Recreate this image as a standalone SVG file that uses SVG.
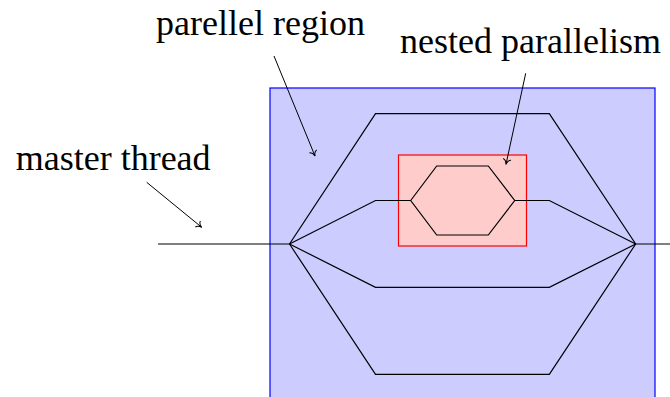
<svg xmlns="http://www.w3.org/2000/svg" width="670" height="397" viewBox="0 0 670 397">
<defs>
<style>
.lbl{font-family:"Liberation Serif","Times New Roman",serif;font-size:36px;fill:#000}
.thr{fill:none;stroke:#000;stroke-width:1.2;stroke-linejoin:miter}
.arr{fill:none;stroke:#000;stroke-width:1;marker-end:url(#to)}
</style>
<marker id="to" viewBox="-6 -5 8 10" refX="0" refY="0" markerWidth="8" markerHeight="10" markerUnits="userSpaceOnUse" orient="auto" overflow="visible">
<path d="M -5 -4 C -4.5 -1.6 -1.8 -0.4 0 0 C -1.8 0.4 -4.5 1.6 -5 4" fill="none" stroke="#000" stroke-width="1"/>
</marker>
</defs>
<g id="parallel-region">
<rect x="270" y="88" width="385" height="320" fill="#ccccff" stroke="#0000ff" stroke-width="1.2"/>
</g>
<g id="nested-region">
<rect x="398.5" y="155" width="128" height="91" fill="#ffcccc" stroke="#ff0000" stroke-width="1.2"/>
</g>
<g id="threads">
<path class="thr" d="M158 244 H289.5"/>
<path class="thr" d="M635.7 244 H670"/>
<path class="thr" d="M289.5 244 L375.5 113.7 H549.3 L635.7 244"/>
<path class="thr" d="M289.5 244 L375.5 200.5 H410.7 M514.7 200.5 H549.3 L635.7 244"/>
<path class="thr" d="M289.5 244 L375.5 287.3 H549.3 L635.7 244"/>
<path class="thr" d="M289.5 244 L375.5 374.3 H549.3 L635.7 244"/>
</g>
<g id="nested-threads">
<path class="thr" d="M410.7 200.5 L436.7 166 H488.3 L514.7 200.5 L488.3 235 H436.7 Z"/>
</g>
<g id="connectors">
<line class="arr" x1="146.7" y1="182.3" x2="201.7" y2="227.3"/>
<line class="arr" x1="274" y1="56" x2="315" y2="156"/>
<line class="arr" x1="525.7" y1="73.3" x2="506" y2="164.3"/>
</g>
<g id="labels">
<text class="lbl" x="156" y="35">parellel region</text>
<text class="lbl" x="400" y="52.5">nested parallelism</text>
<text class="lbl" x="15.7" y="169.5">master thread</text>
</g>
</svg>
